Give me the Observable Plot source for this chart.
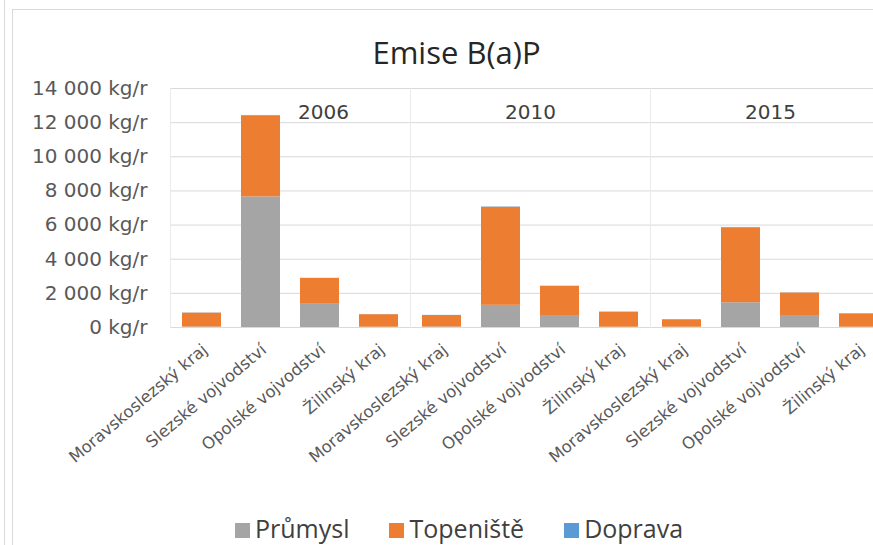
<!DOCTYPE html>
<html>
<head>
<meta charset="utf-8">
<script src="https://cdn.jsdelivr.net/npm/d3@7"></script>
<script src="https://cdn.jsdelivr.net/npm/@observablehq/plot@0.6"></script>
<style>
  html, body { margin: 0; padding: 0; background: #fff; }
  body { width: 873px; height: 545px; overflow: hidden; position: relative; font-family: "Open Sans", sans-serif; }
  #outer-line { position: absolute; left: 4px; top: 0; width: 0; height: 545px; border-left: 1px solid #d9d9d9; }
  #frame { position: absolute; left: 12px; top: 9px; width: 900px; height: 600px; border-left: 1px solid #d9d9d9; border-top: 1px solid #d9d9d9; }
  #title { position: absolute; left: 0; width: 913px; top: 37px; text-align: center; font-size: 31px; line-height: 31px; color: #262626; }
  #chart { position: absolute; left: 0; top: 70px; width: 873px; height: 430px; overflow: hidden; }
  #chart svg { max-width: none !important; }
  #legend { position: absolute; left: 235px; top: 516px; display: flex; align-items: center; font-size: 25px; line-height: 25px; color: #404040; }
  #legend .item { display: flex; align-items: center; margin-right: 40px; }
  #legend .sw { width: 15px; height: 15px; margin-right: 5px; margin-top: 3px; }
</style>
</head>
<body>
<div id="outer-line"></div>
<div id="frame"></div>
<div id="title">Emise B(a)P</div>
<div id="chart"></div>
<div id="legend"></div>
<script>
const years = ["2006", "2010", "2015"];
const regions = ["Moravskoslezský kraj", "Slezské vojvodství", "Opolské vojvodství", "Žilinský kraj"];
const seriesNames = ["Průmysl", "Topeniště", "Doprava"];
const seriesColors = ["#A5A5A5", "#ED7D31", "#5B9BD5"];
// values per year, in region order (kg/r)
const prumysl = {
  "2006": [30, 7650, 1400, 20],
  "2010": [30, 1300, 700, 20],
  "2015": [20, 1450, 700, 20]
};
const topeniste = {
  "2006": [810, 4750, 1470, 730],
  "2010": [670, 5740, 1710, 880],
  "2015": [430, 4390, 1320, 780]
};
const doprava = {
  "2006": [10, 20, 10, 5],
  "2010": [10, 20, 10, 5],
  "2015": [10, 20, 10, 5]
};
const yTicks = [0, 2000, 4000, 6000, 8000, 10000, 12000, 14000];

const seriesValues = [prumysl, topeniste, doprava];
const data = [];
for (const year of years) {
  seriesNames.forEach((s, si) => {
    regions.forEach((r, ri) => {
      data.push({year, region: r, series: s, value: seriesValues[si][year][ri]});
    });
  });
}

const fmt = d3.formatLocale({decimal: ",", thousands: "\u00a0", grouping: [3]}).format(",");

const chart = Plot.plot({
  width: 890,
  height: 417,
  marginLeft: 170,
  marginRight: 0,
  marginTop: 18,
  marginBottom: 160,
  style: {fontFamily: "DejaVu Sans", background: "transparent", color: "#595959", maxWidth: "none"},
  fx: {domain: years, padding: 0, axis: null},
  x: {domain: regions, paddingInner: 0.333, paddingOuter: 0.167},
  y: {domain: [0, 14000]},
  color: {domain: seriesNames, range: seriesColors},
  marks: [
    Plot.gridY({ticks: yTicks, stroke: "#d9d9d9", strokeOpacity: 1}),
    Plot.frame({anchor: "left", stroke: "#ebebeb"}),
    Plot.barY(data, {fx: "year", x: "region", y: "value", fill: "series"}),
    Plot.axisY({ticks: yTicks, tickSize: 0, tickPadding: 23, fontSize: 20, label: null, tickFormat: d => fmt(d) + " kg/r", fill: "#595959"}),
    Plot.axisX({tickSize: 0, tickRotate: -40, tickPadding: 12, fontSize: 16.5, dx: 3, dy: 8, fill: "#595959", label: null}),
    Plot.text(years.filter(y => y === "2006"), {fx: d => d, text: d => d, frameAnchor: "top", dy: 16, dx: 33, fontSize: 20, fill: "#404040"}),
    Plot.text(years.filter(y => y !== "2006"), {fx: d => d, text: d => d, frameAnchor: "top", dy: 16, fontSize: 20, fill: "#404040"})
  ]
});
document.getElementById("chart").appendChild(chart);

const legend = document.getElementById("legend");
seriesNames.forEach((s, i) => {
  const item = document.createElement("div");
  item.className = "item";
  const sw = document.createElement("span");
  sw.className = "sw";
  sw.style.background = seriesColors[i];
  const t = document.createElement("span");
  t.textContent = s;
  item.appendChild(sw);
  item.appendChild(t);
  legend.appendChild(item);
});
</script>
</body>
</html>
